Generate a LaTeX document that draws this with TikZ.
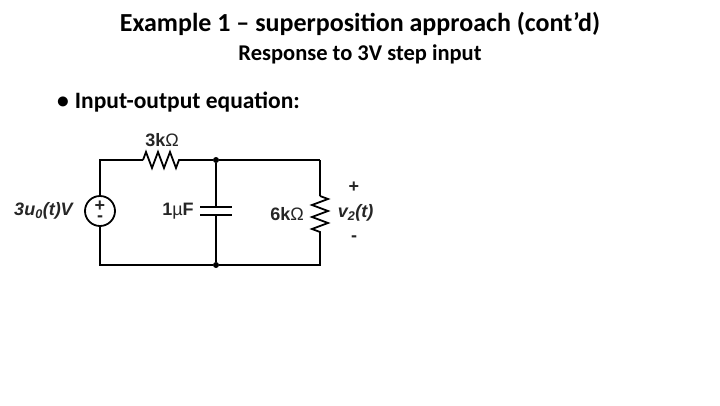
\documentclass[tikz,border=0pt]{standalone}
\usepackage{fontspec}
\setmainfont{Carlito}
\newfontfamily\circfont{Liberation Sans}
\usetikzlibrary{decorations.pathmorphing}
\tikzset{
  wire/.style={line width=1.8pt, black},
  zig/.style={wire, decorate, decoration={zigzag, segment length=12pt, amplitude=8pt}},
  dot/.style={circle, fill, black, inner sep=0pt, minimum size=6pt},
  lab/.style={font=\circfont\bfseries\fontsize{18}{20}\selectfont, inner sep=0pt, text=black!85},
  ilab/.style={lab, font=\circfont\bfseries\itshape\fontsize{18}{20}\selectfont},
  head/.style={inner sep=0pt, text=black}
}
\begin{document}
\begin{tikzpicture}[x=1pt,y=-1pt]
    \useasboundingbox (0,0) rectangle (720,405);

    \node [head, font=\bfseries\fontsize{26}{30}\selectfont] (title) at (360,24) {Example 1 – superposition approach (cont’d)};
    \node [head, font=\bfseries\fontsize{22.5}{26}\selectfont] (sub) at (360,54) {Response to 3V step input};
    \node [head, font=\bfseries\fontsize{23.5}{28}\selectfont, anchor=west] (bul) at (57,102) {•\hspace{6pt}Input-output equation:};

    \coordinate (tl) at (100,160) ;
    \coordinate (bl) at (100,265) ;
    \coordinate (tr) at (320,160) ;
    \coordinate (br) at (320,265) ;
    \node [dot] (topj) at (216,160) {} ;
    \node [dot] (botj) at (216,265) {} ;

    % source
    \node [circle, draw, wire, inner sep=0pt, minimum size=30pt] (src) at (100,211) {} ;
    \node [lab] (srcp) at (100,206) {+} ;
    \node [lab] (srcm) at (100,219) {-} ;

    % top resistor
    \coordinate (ra) at (143,160) ;
    \coordinate (rb) at (181,160) ;
    \draw [wire] (src) -- (tl) -- (ra) ;
    \draw [zig] (ra) -- (rb) ;
    \draw [wire] (rb) -- (topj) -- (tr) ;

    % capacitor
    \coordinate (ca) at (216,207) ;
    \coordinate (cb) at (216,215) ;
    \draw [wire] (topj) -- (ca) ;
    \draw [wire] (cb) -- (botj) ;
    \draw [wire] (200,207) -- (232,207) ;
    \draw [wire] (200,215) -- (232,215) ;

    % right resistor
    \coordinate (sa) at (320,196) ;
    \coordinate (sb) at (320,233) ;
    \draw [wire] (tr) -- (sa) ;
    \draw [zig] (sa) -- (sb) ;
    \draw [wire] (sb) -- (br) -- (botj) -- (bl) -- (src) ;

    \node [lab] (l1) at (162,140) {3k{\mdseries Ω}} ;
    \node [ilab] (l2) at (43.5,211) {3u\textsubscript{0}(t)V} ;
    \node [lab] (l3) at (178,211) {1{\mdseries µ}F} ;
    \node [lab] (l4) at (287,214) {6k{\mdseries Ω}} ;
    \node [lab] (l5) at (354,187) {+} ;
    \node [ilab] (l6) at (355.5,213) {v\textsubscript{2}(t)} ;
    \node [lab] (l7) at (354,239) {-} ;
  \end{tikzpicture}
\end{document}
